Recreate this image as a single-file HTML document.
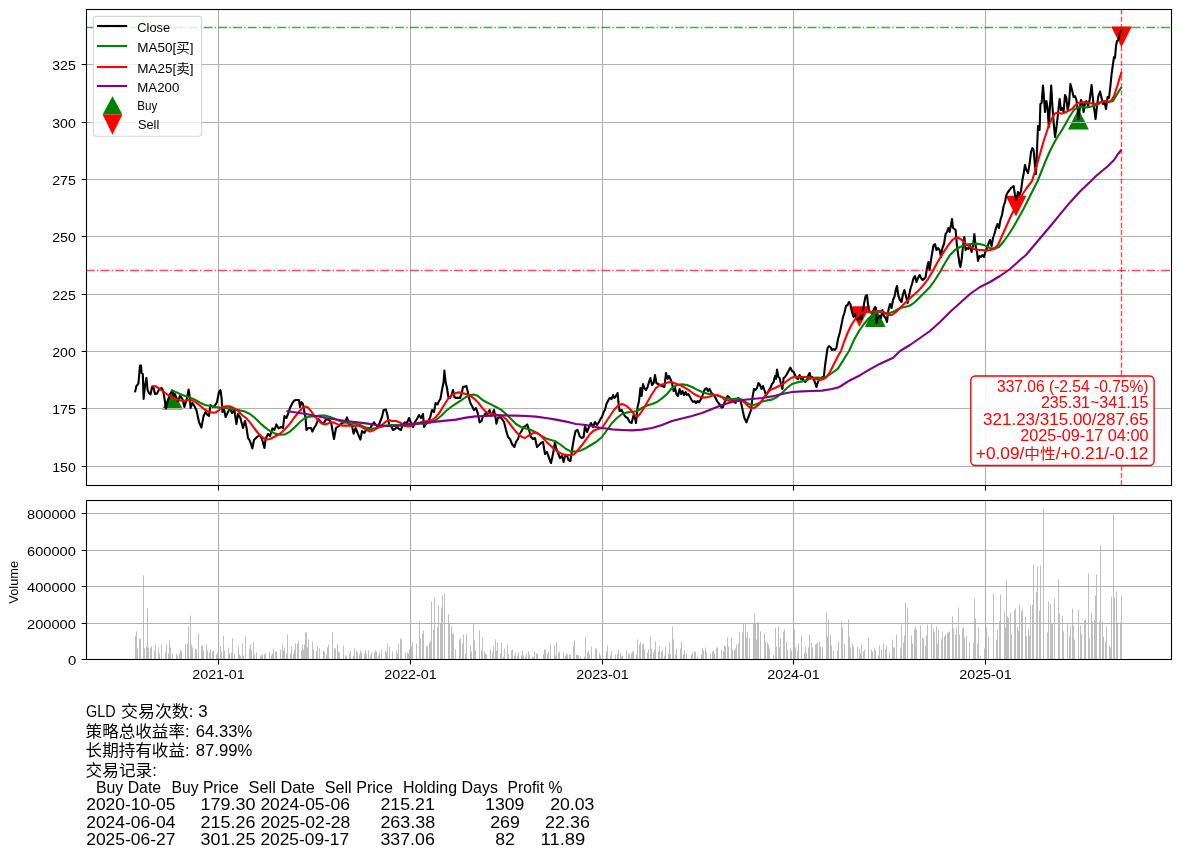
<!DOCTYPE html>
<html><head><meta charset="utf-8"><title>GLD</title>
<style>html,body{margin:0;padding:0;background:#fff}svg{display:block}</style></head>
<body>
<svg width="1180" height="857" viewBox="0 0 1180 857">
<rect width="1180" height="857" fill="#fff"/>
<defs><clipPath id="c1"><rect x="86.5" y="9.5" width="1085.0" height="476.0"/></clipPath></defs>
<g clip-path="url(#c1)">
<polygon points="172.5,388.8 162.1,409.6 182.9,409.6" fill="#008000"/>
<polygon points="875.2,306.2 864.8,327.0 885.6,327.0" fill="#008000"/>
<polygon points="1078.4,108.7 1068.0,129.5 1088.8,129.5" fill="#008000"/>
<polygon points="859.5,327.1 849.1,306.3 869.9,306.3" fill="#ff0000"/>
<polygon points="1016.0,216.5 1005.6,195.7 1026.4,195.7" fill="#ff0000"/>
<polygon points="1121.5,47.3 1111.1,26.5 1131.9,26.5" fill="#ff0000"/>
</g>
<path d="M218.5 9.5V485.5M410.5 9.5V485.5M602.5 9.5V485.5M793.5 9.5V485.5M985.5 9.5V485.5M86.5 466.5H1171.5M86.5 408.5H1171.5M86.5 351.5H1171.5M86.5 294.5H1171.5M86.5 236.5H1171.5M86.5 179.5H1171.5M86.5 122.5H1171.5M86.5 64.5H1171.5" stroke="#b0b0b0" stroke-width="1.1" fill="none"/>
<g clip-path="url(#c1)" fill="none" stroke-linejoin="round">
<polyline points="135.0,392.4 136.4,386.0 138.4,383.6 140.0,365.6 141.0,365.6 141.6,373.0 142.8,374.0 143.6,399.0 145.0,386.0 146.4,378.0 147.6,390.0 149.0,393.0 150.6,394.4 152.0,387.0 153.6,388.0 155.0,394.0 157.0,393.6 159.0,389.6 161.6,388.0 163.0,390.0 164.4,398.0 166.0,408.4 168.0,400.0 170.0,394.0 172.0,391.0 173.6,396.0 175.0,394.0 176.4,398.0 178.0,401.0 180.0,396.0 182.4,399.0 184.4,407.0 187.0,398.0 188.6,389.6 189.6,396.0 190.6,408.0 192.4,403.0 194.4,406.0 196.4,410.0 199.0,422.0 201.4,427.6 203.6,416.0 205.6,412.0 207.6,415.0 209.0,416.0 210.4,405.0 213.0,407.0 215.0,405.6 217.0,402.0 219.0,392.0 220.4,390.0 221.6,398.0 222.4,412.0 224.0,409.0 225.6,417.0 228.0,412.0 230.0,408.0 232.0,413.0 234.4,410.0 236.4,424.0 238.0,414.0 240.4,418.0 243.0,428.0 245.0,421.0 246.6,428.0 248.0,438.0 250.0,441.0 252.4,448.4 254.0,440.0 257.0,437.0 259.6,435.0 262.0,439.0 264.4,448.0 265.6,439.0 268.0,434.0 270.0,436.0 272.4,428.4 274.4,430.0 276.4,424.4 278.4,428.4 281.0,427.0 283.0,428.0 284.4,416.0 286.4,418.0 288.0,414.0 290.0,408.0 292.4,403.0 294.4,400.4 297.0,400.0 299.0,400.0 300.0,407.0 301.6,402.0 303.0,404.0 304.0,410.0 305.6,418.0 306.4,430.0 308.4,428.0 311.0,428.0 312.4,431.6 314.0,428.0 316.0,425.0 318.4,419.0 321.0,422.0 323.6,424.0 326.0,419.0 329.0,420.0 331.0,422.0 332.4,430.0 334.0,439.0 336.0,428.0 339.0,426.0 342.0,423.0 345.0,422.0 347.0,417.4 349.0,424.0 351.6,424.0 353.6,433.6 355.6,428.0 358.0,434.0 360.4,439.6 362.0,431.0 364.4,433.0 366.0,430.0 368.0,428.0 370.0,429.0 372.0,425.0 374.0,422.4 376.0,425.0 378.0,427.0 380.0,422.0 382.0,417.0 383.6,410.0 386.0,409.6 387.6,416.0 389.0,424.0 391.0,426.0 393.0,430.0 395.0,429.0 397.0,427.0 399.0,429.0 401.0,430.0 403.0,424.0 405.0,422.4 407.0,423.0 409.0,418.0 411.0,423.0 413.0,427.0 415.0,422.0 417.0,419.0 419.0,415.0 421.0,418.0 423.0,414.0 424.0,427.0 426.0,424.0 428.0,421.0 430.0,418.0 432.0,410.0 434.0,412.0 435.6,403.0 437.6,404.4 439.0,401.0 440.4,399.0 442.0,390.0 443.6,382.0 444.4,370.6 445.6,382.0 447.0,388.0 448.4,397.0 450.0,398.0 451.6,395.0 453.0,390.0 454.4,397.0 456.0,398.0 458.0,397.6 460.0,398.0 461.6,394.0 463.0,387.0 465.0,386.6 466.4,386.0 467.6,391.0 469.0,398.0 470.4,403.0 472.0,406.0 474.0,410.0 476.0,408.0 478.0,414.0 479.6,422.4 481.6,421.0 483.0,416.0 484.4,415.0 486.0,413.0 487.6,414.0 489.6,410.0 491.0,416.0 492.4,414.0 494.0,410.0 495.6,418.0 496.4,423.6 498.0,418.0 500.0,417.0 502.0,419.0 504.0,422.0 506.0,430.0 508.0,437.0 510.0,439.0 512.0,444.0 514.4,447.0 516.0,442.0 518.0,439.0 519.6,434.0 521.6,431.0 523.6,427.0 525.6,426.0 527.2,424.4 529.0,430.0 531.0,437.0 533.0,439.0 535.0,438.0 537.0,447.0 539.0,445.0 541.0,443.0 543.0,442.0 545.0,454.0 547.0,452.0 549.0,458.0 551.0,463.0 553.0,454.0 555.0,442.0 556.0,448.0 558.0,453.0 560.0,458.0 562.0,456.0 563.6,462.0 565.0,456.0 567.0,455.0 568.4,460.0 570.4,461.0 572.0,450.0 574.0,438.0 575.6,431.0 577.6,430.0 579.6,436.0 581.6,438.0 583.6,437.0 585.0,426.0 587.0,432.0 589.0,427.0 591.0,423.0 593.0,427.0 595.0,422.0 597.0,425.0 599.0,422.0 601.0,418.0 602.0,417.0 603.6,412.0 605.0,410.0 606.4,404.0 608.0,401.0 609.6,398.0 611.6,399.0 613.0,395.0 614.4,398.0 616.0,396.0 617.6,393.0 618.4,402.0 619.6,411.0 621.6,410.0 623.6,414.0 625.6,417.0 627.6,418.0 629.6,422.0 631.6,423.0 633.6,415.0 635.0,418.0 636.0,423.0 637.6,407.0 639.0,401.0 640.4,388.0 641.6,396.0 643.0,384.0 644.4,388.0 646.0,390.0 647.6,387.0 649.0,382.0 650.4,378.0 652.0,385.0 653.6,383.0 655.0,375.0 656.4,383.0 658.0,384.0 660.0,385.0 662.0,386.0 664.4,387.0 666.0,373.0 667.6,379.0 669.0,376.0 670.4,379.0 672.0,383.0 673.6,391.0 675.0,388.0 676.4,394.0 678.0,396.0 679.6,389.0 681.0,394.0 682.4,391.0 684.0,395.0 685.6,392.0 687.0,395.0 688.4,394.0 690.0,397.0 691.6,400.0 693.0,402.0 694.4,401.0 696.0,403.0 697.6,401.0 699.0,402.4 700.4,400.0 702.0,397.0 703.6,392.0 705.0,389.0 706.4,388.0 708.0,391.0 709.6,389.0 711.0,392.0 712.4,394.0 714.0,395.0 715.6,398.0 717.0,401.0 718.4,403.0 720.0,405.0 721.6,407.6 723.0,407.0 724.4,403.0 726.0,399.0 727.6,396.0 729.0,397.0 730.4,400.0 732.0,399.0 733.6,401.0 735.6,403.0 737.0,399.0 738.4,398.0 740.0,400.0 741.6,405.0 743.0,412.0 744.4,418.0 746.4,422.4 748.0,418.0 749.6,414.0 751.0,410.0 752.4,398.0 754.0,389.0 755.6,390.0 757.0,388.0 758.4,383.0 760.0,385.0 761.6,389.0 763.0,386.0 764.4,390.0 766.0,395.0 767.6,393.0 769.0,390.0 770.4,388.0 772.0,384.0 773.6,382.0 775.0,376.0 776.0,379.0 777.0,369.6 778.4,377.0 779.6,378.0 781.0,384.0 782.4,389.0 783.6,378.0 785.0,377.0 786.4,375.0 788.0,372.0 789.6,369.0 790.4,367.6 792.0,371.0 793.6,372.0 795.0,375.0 796.4,378.0 798.0,379.0 799.6,375.0 801.0,379.0 802.4,378.0 804.0,381.0 805.6,382.0 807.0,380.0 808.4,375.0 809.6,373.0 811.0,378.0 812.4,377.0 814.0,380.0 815.6,384.0 816.4,387.0 818.0,382.0 819.6,379.0 821.0,378.0 822.4,377.0 823.6,379.0 825.0,366.0 826.4,356.0 827.6,348.0 829.0,346.0 830.4,347.0 832.0,350.0 833.6,349.0 835.0,350.0 836.4,348.0 838.0,339.0 840.0,332.0 841.6,324.0 843.0,317.0 844.4,313.0 846.0,306.0 847.6,305.0 849.0,302.0 850.4,304.0 852.0,312.0 853.6,317.0 855.0,314.0 856.4,318.0 858.0,320.0 860.0,316.0 861.6,319.0 863.0,310.0 864.4,302.0 865.6,296.0 867.0,295.0 868.0,304.0 869.0,310.0 870.4,312.0 872.0,313.0 873.6,310.0 875.0,307.0 876.0,308.0 876.4,323.0 878.0,318.0 879.6,316.0 881.0,318.0 882.4,310.0 884.0,316.0 885.6,318.0 887.0,322.0 888.4,310.0 890.0,304.0 891.6,308.0 893.0,300.0 894.4,297.0 896.0,289.0 897.0,286.0 898.4,296.0 900.0,300.0 901.6,302.0 903.0,294.0 904.4,290.0 906.0,296.0 907.6,303.0 909.0,296.0 910.4,289.0 912.0,284.0 913.6,278.0 915.0,276.0 916.4,282.0 918.0,278.0 919.6,275.0 921.0,278.0 922.4,280.0 924.0,279.0 925.6,277.0 927.0,268.0 928.4,262.0 929.6,270.0 931.0,260.0 932.0,254.0 933.6,245.0 935.0,244.0 936.4,250.0 938.0,248.0 939.6,250.0 941.0,257.0 942.4,248.0 944.0,244.0 945.6,234.0 947.0,232.0 948.4,228.0 949.6,232.0 951.0,225.0 952.0,219.0 953.0,228.0 954.4,229.0 955.6,230.0 957.0,246.0 958.4,256.0 959.6,264.0 960.4,267.0 961.6,260.0 963.0,246.0 964.4,237.0 965.6,250.0 967.0,248.0 968.4,249.0 970.0,246.0 971.6,252.0 973.0,246.0 974.4,234.0 975.6,246.0 977.0,252.0 978.0,261.0 979.6,256.0 981.0,257.0 982.4,255.0 984.0,257.0 985.6,251.0 987.0,248.0 988.4,244.0 990.0,240.0 991.6,246.0 993.0,238.0 994.4,234.0 996.0,228.0 997.6,224.0 999.0,228.0 1000.4,220.0 1002.0,215.0 1003.6,206.0 1005.0,202.0 1006.4,195.0 1008.0,192.0 1009.6,190.0 1011.0,188.0 1012.4,187.0 1013.6,186.0 1015.0,195.0 1016.4,200.0 1018.0,192.0 1019.6,195.0 1021.0,191.0 1022.4,180.0 1023.6,174.0 1025.0,165.0 1026.4,170.0 1028.0,173.0 1029.6,164.0 1031.0,152.0 1032.4,148.0 1033.6,150.0 1035.0,166.0 1036.0,174.0 1037.0,150.0 1038.0,126.0 1039.6,130.0 1040.4,104.0 1041.6,103.0 1043.0,85.6 1044.0,98.0 1045.0,112.0 1046.4,101.0 1047.6,108.0 1048.8,127.0 1050.0,106.0 1051.2,85.6 1052.4,106.0 1053.6,122.0 1055.0,137.0 1056.4,128.0 1058.0,114.0 1059.6,99.0 1061.0,110.0 1062.4,108.0 1063.6,112.0 1065.0,95.0 1066.4,98.0 1067.6,110.0 1069.0,104.0 1070.4,84.0 1072.0,90.0 1073.6,97.0 1075.0,96.0 1076.4,100.0 1077.6,108.0 1078.4,119.0 1079.6,110.0 1081.0,100.0 1082.4,103.0 1083.6,112.0 1085.0,103.0 1086.4,101.0 1088.0,106.0 1089.6,100.0 1091.0,90.0 1091.6,85.0 1093.0,100.0 1094.4,110.0 1095.6,119.0 1097.0,106.0 1098.4,96.0 1100.0,91.6 1101.6,98.0 1103.0,104.0 1104.4,101.0 1106.0,109.0 1107.6,97.0 1109.0,98.0 1110.4,86.0 1111.6,74.0 1113.0,64.0 1114.0,57.0 1115.0,58.0 1116.0,46.0 1117.0,41.0 1118.4,40.0 1119.6,34.0 1121.0,30.0" stroke="#000" stroke-width="2.1"/>
<polyline points="171.0,390.0 175.0,391.6 180.0,394.0 185.0,396.0 190.0,397.6 195.0,399.6 200.0,402.6 205.0,405.0 210.0,406.0 215.0,407.0 220.0,407.6 225.0,408.0 230.0,408.6 235.0,409.4 240.0,410.4 245.0,411.6 250.0,414.0 255.0,418.0 260.0,423.0 265.0,427.4 270.0,431.0 275.0,433.6 280.0,434.6 285.0,434.4 290.0,431.6 295.0,427.0 300.0,422.0 305.0,418.0 310.0,416.4 315.0,416.4 320.0,415.6 325.0,415.6 330.0,417.0 335.0,419.0 340.0,421.0 345.0,422.4 350.0,423.4 355.0,423.6 360.0,425.0 366.0,427.6 371.0,429.0 376.0,428.0 381.0,427.0 386.0,425.6 391.0,425.0 396.0,425.0 401.0,425.6 406.0,425.0 411.0,424.0 416.0,423.6 421.0,423.4 426.0,423.6 431.0,422.4 436.0,420.0 441.0,416.0 446.0,411.0 451.0,407.0 456.0,403.6 461.0,400.4 466.0,397.0 470.0,395.0 474.0,394.6 478.0,396.0 482.0,399.6 486.0,402.0 491.0,404.4 496.0,407.0 501.0,409.6 506.0,414.0 511.0,419.0 516.0,424.0 521.0,427.0 526.0,428.4 531.0,430.0 536.0,432.4 541.0,435.6 546.0,438.4 551.0,440.0 556.0,441.6 561.0,445.0 566.0,449.0 571.0,451.4 576.0,451.6 581.0,450.4 586.0,448.0 591.0,445.0 596.0,442.0 602.0,437.0 607.0,430.0 612.0,423.0 617.0,418.0 622.0,414.0 627.0,412.4 632.0,412.0 637.0,411.0 642.0,408.0 647.0,405.6 652.0,404.0 657.0,402.0 662.0,398.4 667.0,394.0 672.0,388.0 677.0,385.0 682.0,384.4 687.0,385.0 692.0,387.0 697.0,389.6 702.0,392.0 707.0,393.6 712.0,394.4 717.0,395.6 722.0,397.0 727.0,398.4 732.0,399.0 737.0,398.6 742.0,399.6 747.0,403.0 752.0,405.4 757.0,404.0 762.0,401.6 767.0,400.4 772.0,399.6 777.0,397.0 782.0,393.0 787.0,388.0 792.0,384.0 797.0,382.4 802.0,381.4 807.0,380.0 812.0,378.0 817.0,377.6 822.0,378.0 827.0,376.4 832.0,373.0 838.0,368.6 849.0,351.0 854.0,340.0 859.0,331.0 864.0,324.0 869.0,318.0 874.0,314.0 878.0,312.0 882.0,312.0 886.0,313.0 890.0,313.0 895.0,311.0 900.0,308.0 905.0,307.0 910.0,305.6 915.0,302.0 920.0,297.0 925.0,292.0 930.0,287.0 935.0,280.0 940.0,272.0 945.0,263.0 950.0,255.0 955.0,250.0 960.0,247.0 965.0,245.0 970.0,244.0 975.0,243.6 980.0,244.0 985.0,245.6 990.0,248.0 995.0,248.6 999.0,247.0 1004.0,241.0 1009.0,234.0 1014.0,226.0 1019.0,217.0 1024.0,208.0 1026.0,204.0 1037.6,181.0 1042.0,170.0 1046.0,160.0 1050.0,151.0 1054.0,143.0 1058.0,136.0 1062.0,130.0 1066.0,123.0 1070.0,116.0 1074.0,110.0 1077.0,107.6 1081.0,107.0 1085.0,107.6 1089.0,107.0 1093.0,106.0 1097.0,105.0 1101.0,102.4 1105.0,101.0 1109.0,102.0 1113.0,101.0 1116.0,96.0 1119.0,91.0 1121.6,87.0" stroke="#008000" stroke-width="2.1"/>
<polyline points="151.6,386.0 156.0,386.4 160.0,389.2 164.0,392.0 168.0,395.0 172.0,397.0 176.0,399.0 180.0,400.4 184.0,401.0 188.0,400.0 192.0,400.4 196.0,402.4 200.0,405.6 204.0,409.0 208.0,411.6 212.0,412.6 216.0,412.4 219.0,410.0 222.0,407.0 226.0,406.4 230.0,406.4 234.0,408.0 238.0,411.0 242.0,415.0 246.0,418.0 250.0,422.4 254.0,428.0 258.0,433.0 262.0,437.0 266.0,439.6 270.0,439.0 274.0,437.0 278.0,435.0 282.0,432.0 286.0,428.0 290.0,423.6 294.0,418.0 298.0,413.0 302.0,408.4 305.0,406.6 308.0,407.6 311.0,411.0 314.0,415.6 318.0,420.0 322.0,423.6 325.0,424.6 328.0,423.6 331.0,422.0 334.0,422.6 338.0,424.4 342.0,425.6 346.0,425.6 350.0,425.6 354.0,426.0 358.0,425.6 362.0,427.0 366.0,429.6 370.0,431.6 374.0,430.0 378.0,427.6 382.0,425.0 386.0,421.6 389.0,420.0 392.0,421.0 396.0,421.0 400.0,422.4 404.0,425.6 408.0,426.4 412.0,425.6 416.0,424.0 420.0,422.4 424.0,421.4 428.0,421.0 432.0,420.0 436.0,417.0 440.0,412.0 444.0,405.0 448.0,399.0 452.0,395.0 456.0,393.0 459.0,392.4 462.0,393.0 466.0,394.0 470.0,395.6 474.0,398.4 478.0,402.4 482.0,407.6 486.0,412.0 490.0,413.6 494.0,414.4 498.0,415.0 502.0,416.0 506.0,419.0 510.0,424.0 514.0,429.4 518.0,434.0 522.0,437.0 525.0,438.0 528.0,436.0 532.0,433.6 535.6,432.6 539.0,434.0 543.0,438.0 547.0,442.4 551.0,446.0 555.0,449.6 559.0,452.4 563.0,454.4 567.0,455.0 571.0,455.0 574.0,454.4 578.0,450.0 582.0,445.0 586.0,439.6 590.0,434.0 594.0,430.4 598.0,429.0 602.0,428.0 606.0,422.0 610.0,416.0 614.0,410.0 618.0,405.6 622.0,404.0 626.0,405.6 630.0,409.0 634.0,414.0 637.0,417.0 640.0,414.0 644.0,408.0 648.0,401.0 652.0,394.0 656.0,388.0 660.0,385.0 664.0,384.0 668.0,382.4 671.0,382.0 674.0,383.0 678.0,384.4 682.0,386.0 686.0,388.4 690.0,391.0 694.0,394.0 698.0,396.0 702.0,397.6 706.0,397.4 710.0,396.4 714.0,395.0 717.0,395.0 720.0,396.0 724.0,399.0 728.0,400.4 732.0,401.6 736.0,401.0 740.0,400.0 744.0,402.0 748.0,406.0 751.6,408.6 755.0,407.6 759.0,404.4 763.0,399.0 767.0,393.0 771.0,389.6 775.0,388.0 779.0,386.0 783.0,384.0 787.0,381.0 791.0,378.0 794.0,377.0 798.0,377.0 802.0,377.0 806.0,377.0 810.0,377.6 814.0,378.4 818.0,379.6 822.0,379.6 826.0,377.6 830.0,372.0 834.0,364.0 838.0,356.0 841.0,351.0 844.0,342.0 848.0,332.0 852.0,324.0 856.0,318.0 860.0,314.0 864.0,312.0 868.0,311.6 872.0,312.0 876.0,311.0 880.0,311.0 884.0,312.4 888.0,315.0 892.0,315.0 896.0,312.0 900.0,308.0 904.0,304.0 908.0,300.0 912.0,296.4 916.0,293.0 920.0,289.0 924.0,284.4 928.0,279.0 932.0,272.4 936.0,265.0 940.0,258.0 944.0,251.6 948.0,245.6 952.0,240.4 955.0,238.0 958.0,237.6 962.0,240.0 966.0,244.0 970.0,247.0 974.0,249.0 978.0,250.0 982.0,250.0 986.0,250.6 990.0,250.0 994.0,249.0 998.0,245.0 1002.0,236.0 1006.0,227.0 1010.0,218.0 1014.0,210.0 1018.0,203.0 1022.0,195.0 1026.0,189.0 1032.0,181.0 1036.0,168.0 1040.0,154.0 1044.0,140.0 1048.0,128.0 1052.0,118.0 1055.0,113.4 1058.0,112.4 1061.0,113.6 1064.0,113.0 1068.0,111.0 1072.0,109.0 1075.0,105.6 1078.0,103.0 1082.0,102.0 1086.0,102.6 1090.0,103.0 1094.0,104.0 1097.0,104.0 1100.0,102.4 1104.0,101.0 1108.0,102.0 1111.0,101.0 1114.0,96.0 1117.0,87.0 1119.6,78.0 1121.6,72.0" stroke="#ff0000" stroke-width="2.1"/>
<polyline points="286.4,411.0 306.0,414.0 326.0,418.0 346.0,421.0 366.0,423.4 376.0,425.0 386.0,426.0 396.0,426.0 406.0,424.4 416.0,423.6 426.0,422.4 436.0,421.6 446.0,420.6 456.0,419.6 466.0,417.6 476.0,416.4 486.0,416.0 496.0,415.4 506.0,415.4 516.0,415.6 526.0,416.0 536.0,416.6 546.0,418.0 556.0,419.6 566.0,421.6 576.0,424.0 586.0,425.0 596.0,427.0 602.0,428.0 612.0,429.4 622.0,430.0 632.0,430.4 642.0,429.6 652.0,428.0 662.0,425.0 672.0,421.0 682.0,418.4 692.0,416.0 702.0,413.0 712.0,409.0 722.0,405.0 732.0,402.0 742.0,400.0 752.0,399.0 762.0,398.0 772.0,396.4 782.0,394.0 792.0,392.0 802.0,391.4 812.0,391.0 822.0,390.6 832.0,389.0 838.0,387.6 841.0,386.0 850.1,380.2 860.1,375.2 870.2,369.2 880.2,363.7 893.2,357.7 900.0,351.0 910.0,345.0 920.0,338.0 930.0,331.0 940.0,322.0 950.0,312.0 960.0,303.0 970.0,294.0 980.0,287.0 990.0,282.0 1000.0,276.0 1010.0,269.0 1020.0,260.0 1026.0,255.0 1051.1,225.3 1060.2,214.2 1070.2,202.2 1080.2,191.2 1091.0,181.0 1096.0,176.0 1102.0,171.0 1108.0,166.0 1114.0,160.0 1118.0,154.0 1121.6,149.6" stroke="#800080" stroke-width="2.1"/>
<path d="M86.5 27.5H1171.5" stroke="#008000" stroke-opacity="0.7" stroke-width="1.39" stroke-dasharray="8.9 2.22 1.39 2.22" stroke-dashoffset="0.7"/>
<path d="M86.5 270.5H1171.5" stroke="#ff0000" stroke-opacity="0.7" stroke-width="1.39" stroke-dasharray="8.9 2.22 1.39 2.22" stroke-dashoffset="0.7"/>
<path d="M1121.5 485.5V9.5" stroke="#ff0000" stroke-opacity="0.7" stroke-width="1.39" stroke-dasharray="5.14 2.22"/>
</g>
<path d="M218.5 485.5v4.9M410.5 485.5v4.9M602.5 485.5v4.9M793.5 485.5v4.9M985.5 485.5v4.9M86.5 466.5h-4.9M86.5 408.5h-4.9M86.5 351.5h-4.9M86.5 294.5h-4.9M86.5 236.5h-4.9M86.5 179.5h-4.9M86.5 122.5h-4.9M86.5 64.5h-4.9" stroke="#000" stroke-width="1.1" fill="none"/>
<rect x="86.5" y="9.5" width="1085.0" height="476.0" fill="none" stroke="#000" stroke-width="1.1"/>
<g font-family="Liberation Sans, Noto Sans CJK SC, sans-serif" font-size="13.2" fill="#000" text-anchor="end">
<text x="75.8" y="472.0" textLength="23.6" lengthAdjust="spacingAndGlyphs">150</text>
<text x="75.8" y="414.0" textLength="23.6" lengthAdjust="spacingAndGlyphs">175</text>
<text x="75.8" y="357.0" textLength="23.6" lengthAdjust="spacingAndGlyphs">200</text>
<text x="75.8" y="300.0" textLength="23.6" lengthAdjust="spacingAndGlyphs">225</text>
<text x="75.8" y="242.0" textLength="23.6" lengthAdjust="spacingAndGlyphs">250</text>
<text x="75.8" y="185.0" textLength="23.6" lengthAdjust="spacingAndGlyphs">275</text>
<text x="75.8" y="128.0" textLength="23.6" lengthAdjust="spacingAndGlyphs">300</text>
<text x="75.8" y="70.0" textLength="23.6" lengthAdjust="spacingAndGlyphs">325</text>
</g>
<rect x="93.3" y="16.4" width="108.3" height="119.8" rx="3" fill="#fff" fill-opacity="0.8" stroke="#ccc" stroke-opacity="0.8" stroke-width="1.1"/>
<g stroke-width="2.1" fill="none">
<path d="M97 26H127.2" stroke="#000"/>
<path d="M97 46H127.2" stroke="#008000"/>
<path d="M97 67H127.2" stroke="#ff0000"/>
<path d="M97 86H127.2" stroke="#800080"/>
</g>
<polygon points="112.5,96.2 102.6,114.4 122.4,114.4" fill="#008000"/>
<polygon points="112.5,134.7 102.6,114.4 122.4,114.4" fill="#ff0000"/>
<g font-family="Liberation Sans, Noto Sans CJK SC, sans-serif" font-size="12.7" fill="#000">
<text x="137.3" y="31.7" textLength="32.8" lengthAdjust="spacingAndGlyphs">Close</text>
<text x="137.3" y="51.7" textLength="56.2" lengthAdjust="spacingAndGlyphs">MA50[买]</text>
<text x="137.3" y="72.5" textLength="56.2" lengthAdjust="spacingAndGlyphs">MA25[卖]</text>
<text x="137.3" y="91.6" textLength="42.0" lengthAdjust="spacingAndGlyphs">MA200</text>
<text x="137.3" y="109.8" textLength="20.0" lengthAdjust="spacingAndGlyphs">Buy</text>
<text x="138.0" y="129.0" textLength="21.2" lengthAdjust="spacingAndGlyphs">Sell</text>
</g>
<rect x="970.8" y="376" width="183.3" height="89.5" rx="4.5" fill="#fff" fill-opacity="0.9" stroke="#ff0000" stroke-width="1.4"/>
<g font-family="Liberation Sans, Noto Sans CJK SC, sans-serif" font-size="16.1" fill="#ff0000" text-anchor="end">
<text x="1148.5" y="391.9" textLength="151.5" lengthAdjust="spacingAndGlyphs">337.06 (-2.54 -0.75%)</text>
<text x="1148.5" y="407.6" textLength="107.6" lengthAdjust="spacingAndGlyphs">235.31~341.15</text>
<text x="1148.5" y="424.6" textLength="165.4" lengthAdjust="spacingAndGlyphs">321.23/315.00/287.65</text>
<text x="1148.5" y="440.7" textLength="128.3" lengthAdjust="spacingAndGlyphs">2025-09-17 04:00</text>
<text x="1148.5" y="458.6" textLength="172.7" lengthAdjust="spacingAndGlyphs">+0.09/<tspan font-size="14.6">中性</tspan>/+0.21/-0.12</text>
</g>
<g fill="#808080" fill-opacity="0.5">
<path d="M135 659.5h1V635.5h-1zM136 659.5h1V631.5h-1zM137 659.5h1V648.5h-1zM139 659.5h1V638.5h-1zM140 659.5h1V638.5h-1zM143 659.5h1V575.5h-1zM144 659.5h1V648.5h-1zM146 659.5h1V646.5h-1zM147 659.5h1V608.5h-1zM148 659.5h1V647.5h-1zM150 659.5h1V648.5h-1zM151 659.5h1V646.5h-1zM154 659.5h1V650.5h-1zM155 659.5h1V644.5h-1zM158 659.5h1V647.5h-1zM159 659.5h1V653.5h-1zM161 659.5h1V644.5h-1zM165 659.5h1V652.5h-1zM166 659.5h1V644.5h-1zM168 659.5h1V653.5h-1zM169 659.5h1V640.5h-1zM170 659.5h1V647.5h-1zM172 659.5h1V653.5h-1zM176 659.5h1V653.5h-1zM177 659.5h1V655.5h-1zM179 659.5h1V653.5h-1zM180 659.5h1V649.5h-1zM181 659.5h1V651.5h-1zM185 659.5h1V643.5h-1zM187 659.5h1V643.5h-1zM188 659.5h1V626.5h-1zM190 659.5h1V615.5h-1zM191 659.5h1V644.5h-1zM192 659.5h1V647.5h-1zM195 659.5h1V648.5h-1zM196 659.5h1V649.5h-1zM198 659.5h1V633.5h-1zM201 659.5h1V645.5h-1zM202 659.5h1V645.5h-1zM203 659.5h1V650.5h-1zM206 659.5h1V644.5h-1zM207 659.5h1V650.5h-1zM209 659.5h1V652.5h-1zM210 659.5h1V649.5h-1zM212 659.5h1V651.5h-1zM213 659.5h1V650.5h-1zM216 659.5h1V654.5h-1zM217 659.5h1V652.5h-1zM220 659.5h1V646.5h-1zM221 659.5h1V651.5h-1zM223 659.5h1V635.5h-1zM224 659.5h1V650.5h-1zM228 659.5h1V647.5h-1zM229 659.5h1V653.5h-1zM231 659.5h1V652.5h-1zM232 659.5h1V638.5h-1zM234 659.5h1V653.5h-1zM238 659.5h1V646.5h-1zM239 659.5h1V654.5h-1zM240 659.5h1V656.5h-1zM242 659.5h1V643.5h-1zM243 659.5h1V655.5h-1zM245 659.5h1V636.5h-1zM249 659.5h1V648.5h-1zM250 659.5h1V644.5h-1zM251 659.5h1V650.5h-1zM253 659.5h1V642.5h-1zM254 659.5h1V654.5h-1zM256 659.5h1V652.5h-1zM260 659.5h1V655.5h-1zM261 659.5h1V654.9h-1zM262 659.5h1V654.5h-1zM264 659.5h1V653.9h-1zM265 659.5h1V653.5h-1zM269 659.5h1V651.5h-1zM271 659.5h1V655.5h-1zM272 659.5h1V653.5h-1zM273 659.5h1V648.5h-1zM275 659.5h1V651.5h-1zM276 659.5h1V651.5h-1zM280 659.5h1V649.5h-1zM282 659.5h1V644.5h-1zM283 659.5h1V650.5h-1zM284 659.5h1V647.5h-1zM286 659.5h1V653.5h-1zM287 659.5h1V634.5h-1zM290 659.5h1V653.5h-1zM291 659.5h1V646.5h-1zM293 659.5h1V653.5h-1zM294 659.5h1V649.5h-1zM295 659.5h1V643.5h-1zM297 659.5h1V643.5h-1zM298 659.5h1V640.5h-1zM301 659.5h1V650.5h-1zM302 659.5h1V644.5h-1zM303 659.5h1V649.5h-1zM304 659.5h1V644.5h-1zM305 659.5h1V632.5h-1zM306 659.5h1V632.5h-1zM307 659.5h1V647.5h-1zM308 659.5h1V639.5h-1zM312 659.5h1V641.5h-1zM313 659.5h1V649.5h-1zM316 659.5h1V650.5h-1zM317 659.5h1V645.5h-1zM319 659.5h1V648.5h-1zM323 659.5h1V650.5h-1zM324 659.5h1V651.5h-1zM326 659.5h1V654.5h-1zM327 659.5h1V647.5h-1zM328 659.5h1V644.5h-1zM332 659.5h1V632.5h-1zM334 659.5h1V648.5h-1zM335 659.5h1V648.5h-1zM337 659.5h1V644.5h-1zM338 659.5h1V651.5h-1zM339 659.5h1V652.5h-1zM343 659.5h1V645.5h-1zM345 659.5h1V655.5h-1zM346 659.5h1V655.5h-1zM349 659.5h1V653.5h-1zM350 659.5h1V651.5h-1zM353 659.5h1V655.5h-1zM354 659.5h1V648.5h-1zM356 659.5h1V650.5h-1zM357 659.5h1V652.5h-1zM359 659.5h1V654.5h-1zM360 659.5h1V650.5h-1zM361 659.5h1V652.5h-1zM364 659.5h1V653.5h-1zM365 659.5h1V650.5h-1zM366 659.5h1V654.5h-1zM368 659.5h1V650.5h-1zM370 659.5h1V655.5h-1zM371 659.5h1V652.5h-1zM374 659.5h1V652.5h-1zM375 659.5h1V650.5h-1zM376 659.5h1V651.5h-1zM378 659.5h1V655.5h-1zM379 659.5h1V652.5h-1zM381 659.5h1V649.5h-1zM385 659.5h1V650.5h-1zM386 659.5h1V652.5h-1zM387 659.5h1V643.5h-1zM389 659.5h1V646.5h-1zM392 659.5h1V651.5h-1zM396 659.5h1V650.5h-1zM397 659.5h1V653.5h-1zM398 659.5h1V643.5h-1zM400 659.5h1V638.5h-1zM401 659.5h1V639.5h-1zM405 659.5h1V652.5h-1zM407 659.5h1V652.5h-1zM408 659.5h1V653.5h-1zM409 659.5h1V649.5h-1zM410 659.5h1V647.5h-1zM411 659.5h1V646.5h-1zM412 659.5h1V642.5h-1zM416 659.5h1V643.5h-1zM419 659.5h1V621.5h-1zM420 659.5h1V638.5h-1zM422 659.5h1V633.5h-1zM423 659.5h1V630.5h-1zM426 659.5h1V646.5h-1zM427 659.5h1V645.5h-1zM429 659.5h1V642.5h-1zM430 659.5h1V641.5h-1zM431 659.5h1V601.5h-1zM433 659.5h1V629.5h-1zM434 659.5h1V597.5h-1zM437 659.5h1V627.5h-1zM438 659.5h1V605.5h-1zM440 659.5h1V623.5h-1zM441 659.5h1V607.5h-1zM442 659.5h1V595.5h-1zM444 659.5h1V593.5h-1zM448 659.5h1V614.5h-1zM449 659.5h1V623.5h-1zM451 659.5h1V626.5h-1zM452 659.5h1V633.5h-1zM453 659.5h1V633.5h-1zM455 659.5h1V649.5h-1zM459 659.5h1V639.5h-1zM460 659.5h1V638.5h-1zM462 659.5h1V643.5h-1zM463 659.5h1V634.5h-1zM465 659.5h1V653.5h-1zM466 659.5h1V634.5h-1zM470 659.5h1V645.5h-1zM471 659.5h1V651.5h-1zM473 659.5h1V624.5h-1zM474 659.5h1V640.5h-1zM475 659.5h1V650.5h-1zM479 659.5h1V630.5h-1zM481 659.5h1V650.5h-1zM482 659.5h1V637.5h-1zM484 659.5h1V651.5h-1zM485 659.5h1V653.5h-1zM486 659.5h1V654.5h-1zM490 659.5h1V649.5h-1zM492 659.5h1V652.5h-1zM493 659.5h1V646.5h-1zM495 659.5h1V639.5h-1zM496 659.5h1V650.5h-1zM497 659.5h1V642.5h-1zM500 659.5h1V653.5h-1zM501 659.5h1V642.5h-1zM503 659.5h1V656.5h-1zM504 659.5h1V648.5h-1zM507 659.5h1V644.5h-1zM508 659.5h1V654.5h-1zM511 659.5h1V650.5h-1zM512 659.5h1V649.5h-1zM514 659.5h1V655.5h-1zM515 659.5h1V652.5h-1zM517 659.5h1V655.5h-1zM518 659.5h1V652.5h-1zM521 659.5h1V655.5h-1zM522 659.5h1V650.5h-1zM523 659.5h1V655.5h-1zM525 659.5h1V656.5h-1zM526 659.5h1V653.5h-1zM528 659.5h1V651.5h-1zM529 659.5h1V654.5h-1zM532 659.5h1V656.5h-1zM533 659.5h1V657.1h-1zM534 659.5h1V651.5h-1zM536 659.5h1V653.5h-1zM537 659.5h1V653.5h-1zM543 659.5h1V654.5h-1zM544 659.5h1V649.5h-1zM545 659.5h1V649.5h-1zM547 659.5h1V653.5h-1zM548 659.5h1V651.5h-1zM550 659.5h1V644.5h-1zM554 659.5h1V645.5h-1zM555 659.5h1V655.5h-1zM556 659.5h1V642.5h-1zM558 659.5h1V652.5h-1zM559 659.5h1V651.5h-1zM563 659.5h1V652.5h-1zM565 659.5h1V655.5h-1zM566 659.5h1V653.5h-1zM567 659.5h1V654.5h-1zM569 659.5h1V654.5h-1zM570 659.5h1V654.5h-1zM573 659.5h1V645.5h-1zM574 659.5h1V640.5h-1zM576 659.5h1V654.5h-1zM577 659.5h1V655.1h-1zM578 659.5h1V655.5h-1zM580 659.5h1V656.5h-1zM584 659.5h1V656.5h-1zM585 659.5h1V637.5h-1zM587 659.5h1V652.5h-1zM588 659.5h1V650.5h-1zM589 659.5h1V654.5h-1zM591 659.5h1V646.5h-1zM595 659.5h1V648.5h-1zM596 659.5h1V648.5h-1zM599 659.5h1V653.5h-1zM600 659.5h1V655.5h-1zM602 659.5h1V655.5h-1zM606 659.5h1V651.5h-1zM607 659.5h1V645.5h-1zM610 659.5h1V655.5h-1zM611 659.5h1V650.5h-1zM615 659.5h1V654.5h-1zM617 659.5h1V653.5h-1zM618 659.5h1V649.5h-1zM620 659.5h1V652.5h-1zM621 659.5h1V656.5h-1zM622 659.5h1V655.5h-1zM626 659.5h1V650.5h-1zM628 659.5h1V653.5h-1zM629 659.5h1V654.5h-1zM631 659.5h1V653.5h-1zM632 659.5h1V651.5h-1zM633 659.5h1V651.5h-1zM636 659.5h1V654.5h-1zM637 659.5h1V639.5h-1zM639 659.5h1V644.5h-1zM640 659.5h1V642.5h-1zM642 659.5h1V644.5h-1zM643 659.5h1V643.5h-1zM644 659.5h1V649.5h-1zM647 659.5h1V652.5h-1zM648 659.5h1V649.5h-1zM650 659.5h1V636.5h-1zM651 659.5h1V648.5h-1zM653 659.5h1V652.5h-1zM654 659.5h1V649.5h-1zM655 659.5h1V641.5h-1zM658 659.5h1V651.5h-1zM659 659.5h1V646.5h-1zM661 659.5h1V651.5h-1zM662 659.5h1V650.5h-1zM664 659.5h1V655.5h-1zM665 659.5h1V646.5h-1zM668 659.5h1V653.5h-1zM669 659.5h1V642.5h-1zM670 659.5h1V654.5h-1zM672 659.5h1V626.5h-1zM673 659.5h1V639.5h-1zM675 659.5h1V654.5h-1zM676 659.5h1V648.5h-1zM680 659.5h1V648.5h-1zM681 659.5h1V641.5h-1zM683 659.5h1V654.5h-1zM684 659.5h1V650.5h-1zM686 659.5h1V653.5h-1zM691 659.5h1V654.5h-1zM692 659.5h1V652.5h-1zM694 659.5h1V651.5h-1zM695 659.5h1V651.5h-1zM697 659.5h1V656.5h-1zM701 659.5h1V654.5h-1zM702 659.5h1V648.5h-1zM703 659.5h1V650.5h-1zM705 659.5h1V647.5h-1zM706 659.5h1V652.5h-1zM710 659.5h1V653.5h-1zM712 659.5h1V651.5h-1zM713 659.5h1V650.5h-1zM714 659.5h1V653.5h-1zM716 659.5h1V647.5h-1zM717 659.5h1V647.5h-1zM721 659.5h1V649.5h-1zM723 659.5h1V651.5h-1zM724 659.5h1V645.5h-1zM725 659.5h1V646.5h-1zM727 659.5h1V637.5h-1zM728 659.5h1V646.5h-1zM731 659.5h1V637.5h-1zM732 659.5h1V649.5h-1zM734 659.5h1V650.5h-1zM735 659.5h1V648.5h-1zM736 659.5h1V644.5h-1zM738 659.5h1V643.5h-1zM739 659.5h1V632.5h-1zM742 659.5h1V632.5h-1zM743 659.5h1V623.5h-1zM745 659.5h1V624.5h-1zM746 659.5h1V637.5h-1zM747 659.5h1V631.5h-1zM749 659.5h1V638.5h-1zM753 659.5h1V623.5h-1zM754 659.5h1V613.5h-1zM755 659.5h1V623.5h-1zM756 659.5h1V639.5h-1zM757 659.5h1V622.5h-1zM758 659.5h1V622.5h-1zM760 659.5h1V631.5h-1zM764 659.5h1V633.5h-1zM765 659.5h1V641.5h-1zM767 659.5h1V642.5h-1zM768 659.5h1V644.5h-1zM769 659.5h1V648.5h-1zM773 659.5h1V654.5h-1zM775 659.5h1V627.5h-1zM776 659.5h1V646.5h-1zM778 659.5h1V626.5h-1zM779 659.5h1V647.5h-1zM780 659.5h1V638.5h-1zM783 659.5h1V631.5h-1zM784 659.5h1V629.5h-1zM786 659.5h1V641.5h-1zM787 659.5h1V649.5h-1zM790 659.5h1V648.5h-1zM791 659.5h1V650.5h-1zM794 659.5h1V629.5h-1zM795 659.5h1V647.5h-1zM797 659.5h1V650.5h-1zM798 659.5h1V643.5h-1zM801 659.5h1V635.5h-1zM804 659.5h1V652.5h-1zM805 659.5h1V646.5h-1zM806 659.5h1V653.5h-1zM808 659.5h1V647.5h-1zM809 659.5h1V634.5h-1zM811 659.5h1V642.5h-1zM812 659.5h1V647.5h-1zM815 659.5h1V644.5h-1zM816 659.5h1V643.5h-1zM817 659.5h1V642.5h-1zM819 659.5h1V641.5h-1zM820 659.5h1V646.5h-1zM822 659.5h1V647.5h-1zM826 659.5h1V612.5h-1zM827 659.5h1V636.5h-1zM828 659.5h1V619.5h-1zM830 659.5h1V634.5h-1zM831 659.5h1V645.5h-1zM833 659.5h1V650.5h-1zM837 659.5h1V650.5h-1zM838 659.5h1V641.5h-1zM841 659.5h1V621.5h-1zM842 659.5h1V627.5h-1zM844 659.5h1V643.5h-1zM848 659.5h1V619.5h-1zM849 659.5h1V636.5h-1zM850 659.5h1V647.5h-1zM852 659.5h1V643.5h-1zM853 659.5h1V646.5h-1zM857 659.5h1V646.5h-1zM859 659.5h1V648.5h-1zM860 659.5h1V653.5h-1zM861 659.5h1V644.5h-1zM863 659.5h1V651.5h-1zM864 659.5h1V649.5h-1zM868 659.5h1V637.5h-1zM871 659.5h1V649.5h-1zM872 659.5h1V651.5h-1zM874 659.5h1V648.5h-1zM875 659.5h1V650.5h-1zM878 659.5h1V655.5h-1zM879 659.5h1V645.5h-1zM881 659.5h1V649.5h-1zM883 659.5h1V643.5h-1zM885 659.5h1V649.5h-1zM886 659.5h1V645.5h-1zM889 659.5h1V652.5h-1zM892 659.5h1V639.5h-1zM893 659.5h1V647.5h-1zM894 659.5h1V647.5h-1zM896 659.5h1V634.5h-1zM900 659.5h1V648.5h-1zM901 659.5h1V624.5h-1zM903 659.5h1V642.5h-1zM904 659.5h1V635.5h-1zM905 659.5h1V602.5h-1zM907 659.5h1V608.5h-1zM911 659.5h1V635.5h-1zM912 659.5h1V643.5h-1zM914 659.5h1V629.5h-1zM915 659.5h1V626.5h-1zM916 659.5h1V629.5h-1zM920 659.5h1V625.5h-1zM922 659.5h1V637.5h-1zM923 659.5h1V638.5h-1zM925 659.5h1V645.5h-1zM926 659.5h1V635.5h-1zM927 659.5h1V624.5h-1zM931 659.5h1V624.5h-1zM933 659.5h1V628.5h-1zM934 659.5h1V632.5h-1zM936 659.5h1V626.5h-1zM937 659.5h1V643.5h-1zM938 659.5h1V629.5h-1zM941 659.5h1V639.5h-1zM942 659.5h1V631.5h-1zM944 659.5h1V636.5h-1zM945 659.5h1V634.5h-1zM947 659.5h1V632.5h-1zM948 659.5h1V632.5h-1zM949 659.5h1V631.5h-1zM952 659.5h1V616.5h-1zM953 659.5h1V628.5h-1zM955 659.5h1V634.5h-1zM956 659.5h1V627.5h-1zM958 659.5h1V607.5h-1zM959 659.5h1V634.5h-1zM962 659.5h1V628.5h-1zM963 659.5h1V627.5h-1zM964 659.5h1V637.5h-1zM966 659.5h1V635.5h-1zM969 659.5h1V641.5h-1zM973 659.5h1V642.5h-1zM974 659.5h1V598.5h-1zM975 659.5h1V618.5h-1zM977 659.5h1V643.5h-1zM978 659.5h1V627.5h-1zM980 659.5h1V655.5h-1zM984 659.5h1V648.5h-1zM985 659.5h1V627.5h-1zM986 659.5h1V627.5h-1zM988 659.5h1V636.5h-1zM993 659.5h1V593.5h-1zM996 659.5h1V639.5h-1zM997 659.5h1V629.5h-1zM999 659.5h1V621.5h-1zM1000 659.5h1V594.5h-1zM1004 659.5h1V611.5h-1zM1005 659.5h1V627.5h-1zM1006 659.5h1V580.5h-1zM1007 659.5h1V616.5h-1zM1008 659.5h1V617.5h-1zM1010 659.5h1V612.5h-1zM1011 659.5h1V634.5h-1zM1014 659.5h1V610.5h-1zM1015 659.5h1V608.5h-1zM1017 659.5h1V627.5h-1zM1018 659.5h1V630.5h-1zM1019 659.5h1V604.5h-1zM1021 659.5h1V611.5h-1zM1022 659.5h1V609.5h-1zM1025 659.5h1V616.5h-1zM1026 659.5h1V636.5h-1zM1028 659.5h1V628.5h-1zM1029 659.5h1V635.5h-1zM1030 659.5h1V605.5h-1zM1032 659.5h1V604.5h-1zM1033 659.5h1V564.5h-1zM1036 659.5h1V592.5h-1zM1037 659.5h1V566.5h-1zM1039 659.5h1V610.5h-1zM1040 659.5h1V565.5h-1zM1043 659.5h1V508.5h-1zM1047 659.5h1V632.5h-1zM1048 659.5h1V601.5h-1zM1050 659.5h1V603.5h-1zM1051 659.5h1V623.5h-1zM1052 659.5h1V623.5h-1zM1054 659.5h1V598.5h-1zM1058 659.5h1V579.5h-1zM1059 659.5h1V613.5h-1zM1062 659.5h1V615.5h-1zM1063 659.5h1V631.5h-1zM1067 659.5h1V622.5h-1zM1069 659.5h1V636.5h-1zM1070 659.5h1V625.5h-1zM1072 659.5h1V608.5h-1zM1073 659.5h1V625.5h-1zM1074 659.5h1V639.5h-1zM1078 659.5h1V609.5h-1zM1080 659.5h1V625.5h-1zM1081 659.5h1V633.5h-1zM1084 659.5h1V620.5h-1zM1085 659.5h1V619.5h-1zM1088 659.5h1V573.5h-1zM1089 659.5h1V638.5h-1zM1091 659.5h1V612.5h-1zM1092 659.5h1V621.5h-1zM1094 659.5h1V620.5h-1zM1095 659.5h1V595.5h-1zM1096 659.5h1V574.5h-1zM1099 659.5h1V621.5h-1zM1100 659.5h1V545.5h-1zM1102 659.5h1V621.5h-1zM1103 659.5h1V636.5h-1zM1105 659.5h1V641.5h-1zM1106 659.5h1V626.5h-1zM1109 659.5h1V645.5h-1zM1110 659.5h1V647.5h-1zM1111 659.5h1V596.5h-1zM1113 659.5h1V514.5h-1zM1114 659.5h1V597.5h-1zM1116 659.5h1V591.5h-1zM1117 659.5h1V622.5h-1zM1120 659.5h1V622.5h-1zM1121 659.5h1V595.5h-1z"/>
</g>
<path d="M218.5 500.5V659.5M410.5 500.5V659.5M602.5 500.5V659.5M793.5 500.5V659.5M985.5 500.5V659.5M86.5 623.5H1171.5M86.5 586.5H1171.5M86.5 550.5H1171.5M86.5 513.5H1171.5" stroke="#b0b0b0" stroke-width="1.1" fill="none"/>
<path d="M218.5 659.5v4.9M410.5 659.5v4.9M602.5 659.5v4.9M793.5 659.5v4.9M985.5 659.5v4.9M86.5 659.5h-4.9M86.5 623.5h-4.9M86.5 586.5h-4.9M86.5 550.5h-4.9M86.5 513.5h-4.9" stroke="#000" stroke-width="1.1" fill="none"/>
<rect x="86.5" y="500.5" width="1085.0" height="159.0" fill="none" stroke="#000" stroke-width="1.1"/>
<g font-family="Liberation Sans, Noto Sans CJK SC, sans-serif" font-size="13.2" fill="#000" text-anchor="end">
<text x="76.2" y="664.5" textLength="8.3" lengthAdjust="spacingAndGlyphs">0</text>
<text x="75.8" y="628.5" textLength="48.8" lengthAdjust="spacingAndGlyphs">200000</text>
<text x="75.8" y="591.5" textLength="48.8" lengthAdjust="spacingAndGlyphs">400000</text>
<text x="75.8" y="555.5" textLength="48.8" lengthAdjust="spacingAndGlyphs">600000</text>
<text x="75.8" y="518.5" textLength="48.8" lengthAdjust="spacingAndGlyphs">800000</text>
</g>
<g font-family="Liberation Sans, Noto Sans CJK SC, sans-serif" font-size="13.2" fill="#000" text-anchor="middle">
<text x="218.5" y="679" textLength="52.6" lengthAdjust="spacingAndGlyphs">2021-01</text>
<text x="410.5" y="679" textLength="52.6" lengthAdjust="spacingAndGlyphs">2022-01</text>
<text x="602.5" y="679" textLength="52.6" lengthAdjust="spacingAndGlyphs">2023-01</text>
<text x="793.5" y="679" textLength="52.6" lengthAdjust="spacingAndGlyphs">2024-01</text>
<text x="985.5" y="679" textLength="52.6" lengthAdjust="spacingAndGlyphs">2025-01</text>
</g>
<text font-family="Liberation Sans, Noto Sans CJK SC, sans-serif" font-size="12.7" fill="#000" text-anchor="middle" transform="translate(18,582.3) rotate(-90)" textLength="42.8" lengthAdjust="spacingAndGlyphs">Volume</text>
<g font-family="Liberation Sans, Noto Sans CJK SC, sans-serif" font-size="16.4" fill="#000">
<text x="86" y="716.6" textLength="29.6" lengthAdjust="spacingAndGlyphs">GLD</text>
<text x="121" y="716.6" textLength="86.6" lengthAdjust="spacingAndGlyphs">交易次数: 3</text>
<text x="85.6" y="737.3" textLength="104" lengthAdjust="spacingAndGlyphs">策略总收益率:</text>
<text x="195.8" y="737.3" textLength="56.4" lengthAdjust="spacingAndGlyphs">64.33%</text>
<text x="85.6" y="756.2" textLength="104" lengthAdjust="spacingAndGlyphs">长期持有收益:</text>
<text x="195.8" y="756.2" textLength="56.4" lengthAdjust="spacingAndGlyphs">87.99%</text>
<text x="85.6" y="775.9" textLength="71.2" lengthAdjust="spacingAndGlyphs">交易记录:</text>
<text x="96.0" y="792.9" textLength="65.1" lengthAdjust="spacingAndGlyphs">Buy Date</text>
<text x="171.5" y="792.9" textLength="67.1" lengthAdjust="spacingAndGlyphs">Buy Price</text>
<text x="248.6" y="792.9" textLength="66.3" lengthAdjust="spacingAndGlyphs">Sell Date</text>
<text x="324.8" y="792.9" textLength="68.1" lengthAdjust="spacingAndGlyphs">Sell Price</text>
<text x="402.9" y="792.9" textLength="95.0" lengthAdjust="spacingAndGlyphs">Holding Days</text>
<text x="507.6" y="792.9" textLength="54.9" lengthAdjust="spacingAndGlyphs">Profit %</text>
<text x="86.2" y="810.4" textLength="89.3" lengthAdjust="spacingAndGlyphs">2020-10-05</text>
<text x="200.6" y="810.4" textLength="54.9" lengthAdjust="spacingAndGlyphs">179.30</text>
<text x="260.4" y="810.4" textLength="89.5" lengthAdjust="spacingAndGlyphs">2024-05-06</text>
<text x="380.4" y="810.4" textLength="54.4" lengthAdjust="spacingAndGlyphs">215.21</text>
<text x="485.1" y="810.4" textLength="39.2" lengthAdjust="spacingAndGlyphs">1309</text>
<text x="550.2" y="810.4" textLength="44.2" lengthAdjust="spacingAndGlyphs">20.03</text>
<text x="86.2" y="828.2" textLength="89.3" lengthAdjust="spacingAndGlyphs">2024-06-04</text>
<text x="200.6" y="828.2" textLength="54.9" lengthAdjust="spacingAndGlyphs">215.26</text>
<text x="260.4" y="828.2" textLength="89.9" lengthAdjust="spacingAndGlyphs">2025-02-28</text>
<text x="380.4" y="828.2" textLength="54.9" lengthAdjust="spacingAndGlyphs">263.38</text>
<text x="490.2" y="828.2" textLength="29.7" lengthAdjust="spacingAndGlyphs">269</text>
<text x="545.1" y="828.2" textLength="44.8" lengthAdjust="spacingAndGlyphs">22.36</text>
<text x="86.2" y="844.8" textLength="89.3" lengthAdjust="spacingAndGlyphs">2025-06-27</text>
<text x="200.6" y="844.8" textLength="54.9" lengthAdjust="spacingAndGlyphs">301.25</text>
<text x="260.4" y="844.8" textLength="88.7" lengthAdjust="spacingAndGlyphs">2025-09-17</text>
<text x="380.4" y="844.8" textLength="54.4" lengthAdjust="spacingAndGlyphs">337.06</text>
<text x="495.3" y="844.8" textLength="19.6" lengthAdjust="spacingAndGlyphs">82</text>
<text x="540.5" y="844.8" textLength="44.8" lengthAdjust="spacingAndGlyphs">11.89</text>
</g>
</svg>
</body></html>
